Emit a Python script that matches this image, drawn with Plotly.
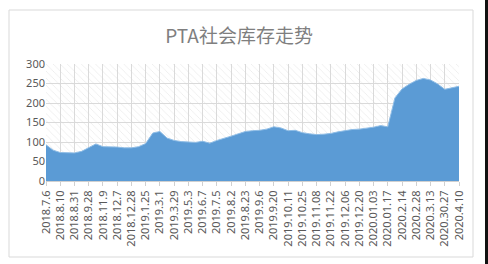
import numpy as np
import plotly.graph_objects as go

# Category labels shown on the x axis (one every two observations)
tick_labels = [
    "2018.7.6", "2018.8.10", "2018.8.31", "2018.9.28", "2018.11.9", "2018.12.7",
    "2018.12.28", "2019.1.25", "2019.3.1", "2019.3.29", "2019.5.3", "2019.6.7",
    "2019.7.5", "2019.8.2", "2019.8.23", "2019.9.6", "2019.9.20", "2019.10.11",
    "2019.10.25", "2019.11.08", "2019.11.22", "2019.12.06", "2019.12.20",
    "2020.01.03", "2020.01.17", "2020.2.14", "2020.2.28", "2020.3.13",
    "2020.30.27", "2020.4.10",
]

# PTA social inventory (10k tonnes)
inventory = [
    93, 79, 73, 72, 72, 76, 85, 95, 88, 88,
    87, 85, 85, 88, 96, 123, 127, 110, 104, 101,
    100, 99, 102, 97, 104, 109, 115, 121, 127, 129,
    130, 133, 139, 136, 129, 130, 124, 121, 119, 120,
    122, 126, 129, 132, 133, 135, 138, 142, 139, 213,
    236, 248, 258, 263, 259, 249, 235, 239, 243,
]

y_ticks = [0, 50, 100, 150, 200, 250, 300]

points_per_label = (len(inventory) - 1) // (len(tick_labels) - 1)
x = np.arange(len(inventory)) / points_per_label
tick_pos = list(range(len(tick_labels)))
y_max = y_ticks[-1]

fig = go.Figure()

# Hatched plot-area background
fig.add_trace(go.Scatter(
    x=[x[0], x[-1]], y=[y_max, y_max],
    mode="lines", line=dict(width=0),
    fill="tozeroy", fillcolor="rgba(0,0,0,0)",
    fillpattern=dict(shape="\\", fgcolor="#d6d6d6", bgcolor="rgba(0,0,0,0)",
                     size=5, solidity=0.15),
    hoverinfo="skip", showlegend=False,
))

# Inventory area
fig.add_trace(go.Scatter(
    x=x, y=inventory,
    mode="lines", line=dict(width=1, color="#8fbde6"),
    fill="tozeroy", fillcolor="#5b9bd5",
    showlegend=False,
))

fig.update_layout(
    width=488, height=264,
    margin=dict(l=46, r=29, t=64, b=83),
    paper_bgcolor="white", plot_bgcolor="white",
    font=dict(family="Noto Sans, Noto Sans CJK SC", color="#595959", size=11),
    title=dict(
        text="PTA社会库存走势",
        x=0.49, xanchor="center", y=1 - 36 / 264, yanchor="middle",
        font=dict(family="Noto Sans CJK SC", size=19, color="#7f7f7f"),
    ),
    xaxis=dict(
        range=[0, len(tick_labels) - 1],
        tickmode="array", tickvals=tick_pos, ticktext=tick_labels,
        tickangle=-90, tickfont=dict(size=11, color="#595959"),
        showgrid=True, gridcolor="#dadada", gridwidth=1,
        showline=True, linecolor="#d0d0d0",
        ticks="outside", ticklen=4, tickcolor="#d0d0d0",
        zeroline=False,
    ),
    yaxis=dict(
        range=[0, y_max],
        tickmode="array", tickvals=y_ticks,
        tickfont=dict(size=11, color="#595959"),
        showgrid=True, gridcolor="#dadada", gridwidth=1,
        zeroline=False, showline=False, ticks="",
    ),
    shapes=[
        dict(type="rect", xref="paper", yref="paper",
             x0=-37 / 413, x1=427 / 413, y0=-76 / 117, y1=(117 + 54) / 117,
             line=dict(color="#d9d9d9", width=1), fillcolor="rgba(0,0,0,0)",
             layer="below"),
        dict(type="rect", xref="paper", yref="paper",
             x0=439 / 413, x1=442 / 413, y0=-83 / 117, y1=(117 + 64) / 117,
             line=dict(width=0), fillcolor="#111111"),
    ],
)

fig.write_html("out.html")
